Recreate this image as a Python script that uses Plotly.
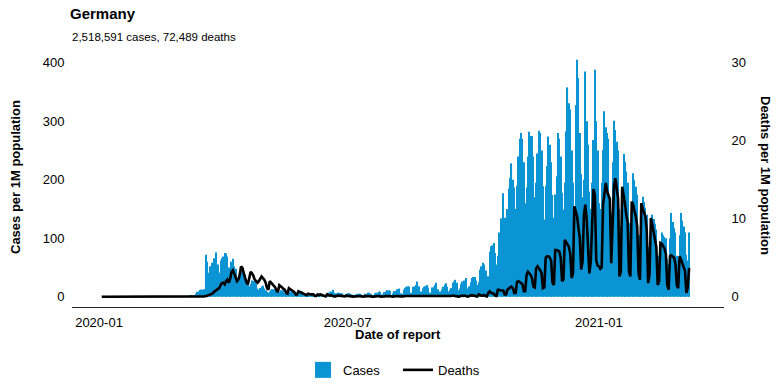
import plotly.graph_objects as go
import pandas as pd

# Daily series start on 2020-01-03; each row below is 7 consecutive days (Fri..Thu)
start_date = "2020-01-03"

cases_rows = [
    [0, 0, 0, 0, 0, 0, 0],
    [0, 0, 0, 0, 0, 0, 0],
    [0, 0, 0, 0, 0, 0, 0],
    [0, 0, 0, 0, 0, 0, 0],
    [0, 0, 0, 0, 0, 0, 0],
    [0, 0, 0, 0, 0, 0, 0],
    [0, 0, 0, 0, 0, 0, 0],
    [0, 0, 0, 0, 0, 0, 0],
    [0.3, 0.2, 0.1, 0.4, 0.2, 0.6, 0.5],
    [1.3, 1.2, 1.5, 2.4, 1.9, 2.1, 5.5],
    [8.5, 9.0, 11.5, 12.6, 11.8, 12.9, 72],
    [60, 41, 52, 45, 58, 66, 62],
    [76, 55, 41, 62, 66, 69, 75],
    [74, 69, 50, 35, 60, 65, 52],
    [48, 32, 28, 30, 36, 46, 41],
    [38, 30, 22, 18, 22, 28, 27],
    [26, 22, 14, 12, 15, 18, 19],
    [14, 11, 8, 7, 9, 12, 13],
    [13, 10, 8, 5, 8, 11, 10],
    [11, 7, 6, 4, 6, 9, 8],
    [8, 6, 4, 3, 5, 7, 6],
    [9, 5, 4, 2, 3, 4, 6],
    [5, 5, 4, 2, 4, 4, 6],
    [5, 4, 3, 2, 5, 7, 8],
    [9, 12, 7, 6, 6, 7, 7],
    [6, 6, 3, 3, 5, 6, 6],
    [5, 4, 3, 3, 4, 5, 5],
    [5, 4, 3, 2, 5, 5, 7],
    [7, 5, 3, 3, 6, 7, 7],
    [9, 8, 4, 4, 8, 9, 11],
    [11, 10, 3, 6, 10, 10, 13],
    [13, 14, 6, 5, 12, 15, 17],
    [18, 17, 7, 7, 17, 18, 20],
    [26, 18, 8, 9, 14, 17, 18],
    [20, 16, 7, 7, 16, 17, 20],
    [24, 13, 6, 9, 13, 17, 21],
    [23, 17, 9, 12, 15, 24, 26],
    [29, 24, 11, 14, 22, 26, 28],
    [26, 32, 14, 18, 25, 32, 34],
    [34, 28, 20, 25, 46, 52, 58],
    [55, 45, 25, 35, 77, 86, 88],
    [92, 75, 55, 70, 110, 134, 134],
    [177, 135, 98, 150, 185, 203, 228],
    [200, 187, 150, 190, 240, 270, 280],
    [270, 230, 160, 187, 240, 282, 275],
    [275, 240, 170, 195, 245, 284, 280],
    [250, 189, 132, 190, 223, 274, 260],
    [230, 174, 135, 175, 206, 280, 270],
    [240, 178, 149, 195, 283, 358, 331],
    [320, 250, 195, 150, 328, 405, 374],
    [280, 210, 170, 200, 385, 300, 260],
    [180, 150, 195, 268, 388, 300, 250],
    [160, 150, 195, 251, 317, 290, 280],
    [270, 170, 140, 230, 301, 285, 265],
    [250, 150, 120, 180, 244, 231, 214],
    [195, 126, 105, 160, 211, 200, 188],
    [175, 105, 90, 130, 171, 162, 152],
    [140, 85, 75, 110, 140, 133, 125],
    [115, 70, 60, 90, 110, 105, 102],
    [100, 65, 55, 100, 143, 128, 118],
    [110, 70, 60, 105, 143, 130, 120],
    [110, 72, 62, 110],
]

deaths_rows = [
    [0, 0, 0, 0, 0, 0, 0],
    [0, 0, 0, 0, 0, 0, 0],
    [0, 0, 0, 0, 0, 0, 0],
    [0, 0, 0, 0, 0, 0, 0],
    [0, 0, 0, 0, 0, 0, 0],
    [0, 0, 0, 0, 0, 0, 0],
    [0, 0, 0, 0, 0, 0, 0],
    [0, 0, 0, 0, 0, 0, 0],
    [0, 0, 0, 0, 0, 0, 0],
    [0, 0, 0, 0, 0, 0, 0],
    [0.01, 0.02, 0.02, 0.04, 0.05, 0.05, 0.1],
    [0.1, 0.2, 0.25, 0.3, 0.4, 0.6, 0.7],
    [0.9, 1.0, 1.1, 1.5, 1.75, 1.8, 1.6],
    [2.0, 2.2, 1.8, 2.3, 3.2, 3.4, 3.0],
    [2.4, 2.0, 2.2, 2.8, 3.9, 3.7, 3.0],
    [2.4, 1.8, 1.6, 2.3, 3.2, 3.0, 2.7],
    [2.2, 2.0, 1.8, 2.0, 2.4, 2.6, 2.4],
    [2.2, 1.8, 1.1, 0.9, 2.0, 1.8, 1.6],
    [1.5, 1.2, 0.8, 0.6, 1.5, 1.4, 1.2],
    [1.0, 0.9, 0.5, 0.4, 1.1, 1.0, 0.8],
    [0.7, 0.6, 0.3, 0.3, 0.7, 0.6, 0.5],
    [0.5, 0.4, 0.2, 0.2, 0.4, 0.3, 0.3],
    [0.3, 0.3, 0.1, 0.1, 0.3, 0.2, 0.3],
    [0.25, 0.15, 0.05, 0.05, 0.3, 0.2, 0.15],
    [0.2, 0.1, 0.05, 0.05, 0.15, 0.15, 0.15],
    [0.1, 0.1, 0.02, 0.05, 0.15, 0.1, 0.1],
    [0.1, 0.05, 0.02, 0.05, 0.1, 0.1, 0.1],
    [0.1, 0.05, 0.02, 0.02, 0.1, 0.05, 0.1],
    [0.05, 0.05, 0.02, 0.02, 0.05, 0.1, 0.05],
    [0.1, 0.02, 0.01, 0.02, 0.05, 0.1, 0.05],
    [0.1, 0.05, 0.01, 0.02, 0.05, 0.1, 0.1],
    [0.1, 0.05, 0.02, 0.02, 0.05, 0.1, 0.1],
    [0.05, 0.05, 0.01, 0.02, 0.1, 0.1, 0.05],
    [0.05, 0.02, 0.01, 0.02, 0.1, 0.1, 0.05],
    [0.1, 0.05, 0.01, 0.02, 0.05, 0.1, 0.1],
    [0.1, 0.05, 0.01, 0.05, 0.1, 0.1, 0.05],
    [0.1, 0.05, 0.02, 0.02, 0.1, 0.15, 0.1],
    [0.1, 0.05, 0.02, 0.05, 0.15, 0.15, 0.1],
    [0.15, 0.05, 0.02, 0.1, 0.15, 0.2, 0.15],
    [0.15, 0.05, 0.05, 0.3, 0.2, 0.15, 0.15],
    [0.2, 0.1, 0.05, 0.5, 0.7, 0.5, 0.45],
    [0.4, 0.15, 0.1, 0.9, 0.9, 0.8, 0.8],
    [0.8, 0.3, 0.3, 0.9, 1.1, 1.2, 1.3],
    [1.1, 0.5, 0.5, 1.9, 2.0, 1.9, 1.8],
    [1.6, 0.7, 0.7, 2.8, 3.2, 3.0, 2.8],
    [2.4, 1.3, 1.2, 3.6, 3.9, 3.7, 3.4],
    [3.0, 1.1, 1.2, 5.0, 5.2, 5.2, 5.0],
    [4.6, 1.8, 1.5, 6.0, 6.0, 5.9, 5.8],
    [5.0, 2.0, 2.2, 7.3, 7.0, 6.6, 6.4],
    [5.5, 2.4, 3.0, 11.6, 11.0, 10.3, 8.8],
    [7.5, 3.5, 4.5, 10.5, 11.8, 10.0, 6.0],
    [3.0, 4.5, 10.5, 13.8, 13.0, 4.7, 4.0],
    [3.9, 3.6, 3.8, 11.8, 13.0, 14.6, 13.5],
    [13.0, 12.5, 4.3, 9.0, 14.2, 15.2, 13.5],
    [12.6, 2.6, 3.2, 14.1, 13.2, 12.0, 10.5],
    [9.5, 3.2, 2.6, 12.2, 11.8, 11.0, 10.3],
    [9.0, 3.0, 2.2, 12.0, 11.3, 10.8, 10.3],
    [8.5, 1.75, 2.8, 10.1, 9.3, 8.2, 6.9],
    [6.4, 1.5, 2.0, 6.9, 6.8, 6.5, 6.2],
    [5.5, 1.5, 0.9, 5.2, 5.3, 5.1, 5.0],
    [4.2, 1.5, 1.1, 5.2, 4.8, 4.2, 3.7],
    [3.3, 0.5, 1.2, 3.7],
]

cases = [v for row in cases_rows for v in row]
deaths = [v for row in deaths_rows for v in row]
dates = pd.date_range(start=start_date, periods=len(cases), freq="D")

x_tick_vals = ["2020-01-01", "2020-07-01", "2021-01-01"]
x_tick_text = ["2020-01", "2020-07", "2021-01"]
y_tick_vals = [0, 100, 200, 300, 400]
y2_tick_vals = [0, 10, 20, 30]

title_text = "Germany"
subtitle_text = "2,518,591 cases, 72,489 deaths"

BAR_COLOR = "#0b94d3"
FONT = "Liberation Sans, Arial, Helvetica, sans-serif"
RATIO = 400 / 30.0
Y_RANGE = [-17.5, 427]

fig = go.Figure()
fig.add_trace(go.Bar(
    x=dates, y=cases, name="Cases",
    marker=dict(color=BAR_COLOR, line=dict(width=0)),
    yaxis="y", showlegend=False,
))
fig.add_trace(go.Scatter(
    x=dates, y=deaths, name="Deaths", mode="lines",
    line=dict(color="black", width=2.6),
    yaxis="y2", showlegend=False,
))
# legend keys
fig.add_trace(go.Scatter(
    x=[None], y=[None], name="Cases", mode="markers",
    marker=dict(symbol="square", size=16, color=BAR_COLOR),
))
fig.add_trace(go.Scatter(
    x=[None], y=[None], name="Deaths", mode="lines",
    line=dict(color="black", width=2.6),
))

fig.update_layout(
    width=784, height=392,
    margin=dict(l=72, r=60, t=47, b=85, autoexpand=False),
    plot_bgcolor="white", paper_bgcolor="white",
    font=dict(family=FONT, size=13, color="black"),
    bargap=0.2,
    showlegend=True,
    legend=dict(orientation="h", x=0.5, xanchor="center", y=-0.242, yanchor="middle",
                font=dict(size=13), itemwidth=30, entrywidth=50),
    title=dict(text="<b>" + title_text + "</b>", x=70 / 784, xanchor="left",
               y=1 - 14 / 392, yanchor="middle", font=dict(size=15)),
    xaxis=dict(type="date", range=["2019-12-12 05:31", "2021-04-02 12:58"],
               tickvals=x_tick_vals, ticktext=x_tick_text,
               showline=True, linecolor="#222222", linewidth=1,
               showgrid=False, zeroline=False,
               ticks="outside", ticklen=3, tickcolor="rgba(0,0,0,0)",
               tickfont=dict(size=13)),
    yaxis=dict(range=Y_RANGE, tickvals=y_tick_vals,
               showgrid=False, zeroline=False, showline=False,
               ticks="outside", ticklen=4, tickcolor="rgba(0,0,0,0)",
               tickfont=dict(size=13)),
    yaxis2=dict(overlaying="y", side="right",
                range=[Y_RANGE[0] / RATIO, Y_RANGE[1] / RATIO],
                tickvals=y2_tick_vals,
                showgrid=False, zeroline=False, showline=False,
                ticks="outside", ticklen=4, tickcolor="rgba(0,0,0,0)",
                tickfont=dict(size=13)),
    annotations=[
        dict(text=subtitle_text, xref="paper", yref="paper",
             x=-0.003, y=(307 - 37) / 260, xanchor="left", yanchor="middle",
             showarrow=False, font=dict(size=11.5)),
        dict(text="<b>Cases per 1M population</b>", xref="paper", yref="paper",
             x=(15 - 72) / 652, y=0.5, xanchor="center", yanchor="middle",
             textangle=-90, showarrow=False, font=dict(size=13)),
        dict(text="<b>Deaths per 1M population</b>", xref="paper", yref="paper",
             x=(766 - 72) / 652, y=(307 - 175) / 260, xanchor="center", yanchor="middle",
             textangle=90, showarrow=False, font=dict(size=13)),
        dict(text="<b>Date of report</b>", xref="paper", yref="paper",
             x=0.5, y=(307 - 334) / 260, xanchor="center", yanchor="middle",
             showarrow=False, font=dict(size=13)),
    ],
)

fig.write_html("out.html", config={"displayModeBar": False},
               post_script="document.body.style.margin='0';document.body.style.overflow='hidden';")
